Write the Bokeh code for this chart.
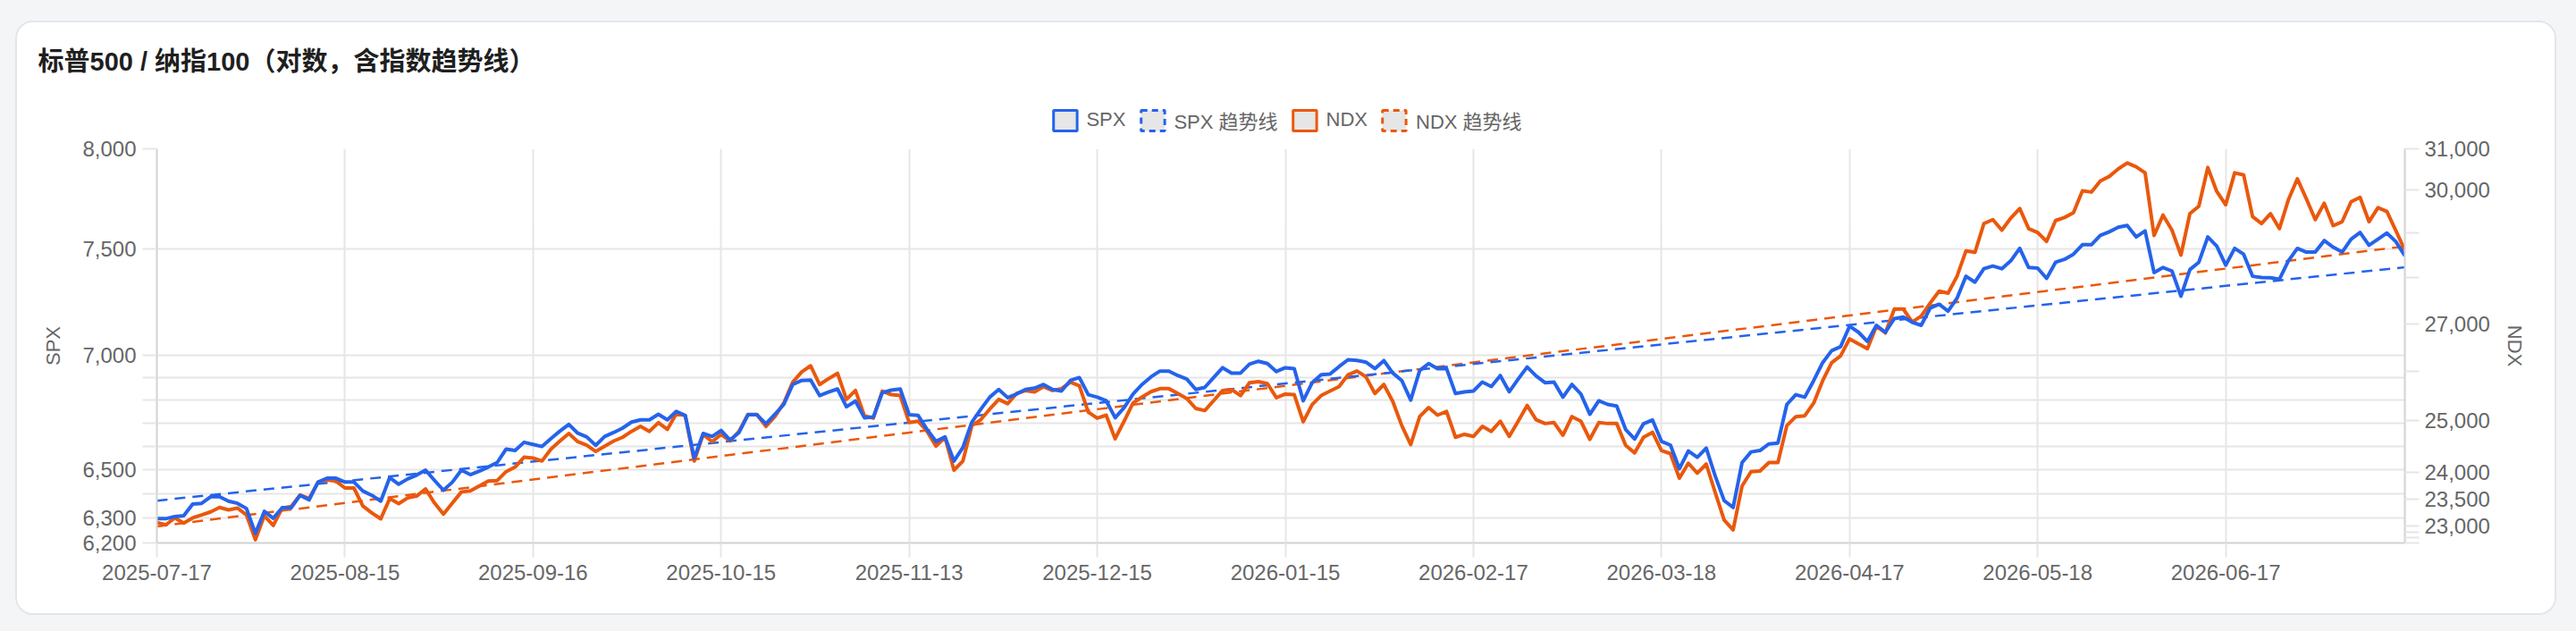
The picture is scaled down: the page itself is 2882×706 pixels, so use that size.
import pandas as pd
from bokeh.plotting import figure
from bokeh.layouts import column, row
from bokeh.models import (Range1d, LogScale, LogAxis, FixedTicker, Legend, LegendItem,
                          Label, ColumnDataSource)
from bokeh.embed import file_html
from bokeh.resources import INLINE

# ---------------- data ----------------
TITLE = "标普500 / 纳指100（对数，含指数趋势线）"
SERIES_NAMES = ["SPX", "SPX 趋势线", "NDX", "NDX 趋势线"]

NYSE_HOLIDAYS = ["2025-09-01", "2025-11-27", "2025-12-25", "2026-01-01", "2026-01-19",
                 "2026-02-16", "2026-04-03", "2026-05-25", "2026-06-19", "2026-07-03"]
dates = pd.bdate_range("2025-07-17", "2026-07-17", freq="C", holidays=NYSE_HOLIDAYS)
date_labels = [d.strftime("%Y-%m-%d") for d in dates]

spx = [
    6298, 6298, 6307, 6310, 6358, 6361, 6388, 6388, 6370, 6361,
    6340, 6239, 6328, 6300, 6343, 6343, 6394, 6375, 6449, 6465,
    6465, 6449, 6449, 6412, 6394, 6370, 6468, 6440, 6462, 6478,
    6499, 6456, 6415, 6449, 6499, 6480, 6495, 6512, 6531, 6588,
    6582, 6617,
    6608, 6599, 6633, 6665, 6694, 6656, 6640, 6604, 6642, 6659,
    6678, 6704, 6714, 6714, 6738, 6714, 6751, 6733, 6550, 6655,
    6642, 6668, 6627, 6659, 6736, 6736, 6697, 6738, 6781, 6869,
    6887, 6889, 6820, 6836, 6849, 6771, 6796, 6723, 6726, 6833,
    6844, 6849,
    6736, 6733, 6672, 6621, 6640, 6537, 6595, 6704, 6760, 6813,
    6847, 6811, 6827, 6847, 6853, 6869, 6847, 6840, 6887, 6900,
    6824, 6813, 6797, 6723, 6767, 6827, 6869, 6903, 6929, 6929,
    6909, 6893, 6847, 6856, 6900, 6944, 6920, 6920, 6960, 6973,
    6963, 6927,
    6944, 6940, 6797, 6877, 6913, 6916, 6949, 6980, 6977, 6969,
    6940, 6976, 6920, 6887, 6800, 6931, 6963, 6940, 6940, 6829,
    6836, 6840, 6880, 6860, 6909, 6837, 6893, 6947, 6907, 6877,
    6880, 6813, 6869, 6827, 6738, 6797, 6781, 6774, 6672, 6631,
    6697, 6713,
    6621, 6605, 6505, 6580, 6553, 6592, 6474, 6372, 6344, 6531,
    6576, 6582, 6610, 6614, 6781, 6824, 6813, 6887, 6967, 7021,
    7039, 7133, 7105, 7063, 7137, 7105, 7168, 7175, 7151, 7137,
    7217, 7235, 7203, 7263, 7367, 7339, 7403, 7416, 7403, 7441,
    7501, 7409,
    7406, 7357, 7434, 7448, 7473, 7519, 7519, 7564, 7582, 7604,
    7613, 7557, 7586, 7385, 7409, 7392, 7273, 7399, 7434, 7557,
    7512, 7420, 7501, 7473, 7367, 7361, 7360, 7353, 7441, 7501,
    7483, 7483, 7539, 7507, 7483, 7546, 7579, 7516, 7546, 7576,
    7534, 7465,
]

ndx = [
    23071, 23027, 23154, 23060, 23154, 23209, 23264, 23346, 23302, 23335,
    23209, 22759, 23192, 23016, 23335, 23362, 23579, 23511, 23820, 23860,
    23837, 23708, 23708, 23373, 23247, 23137, 23511, 23417, 23522, 23556,
    23691, 23428, 23225, 23428, 23635, 23652, 23747, 23837, 23848, 24017,
    24104, 24293,
    24276, 24219, 24449, 24604, 24753, 24592, 24523, 24403, 24506, 24604,
    24678, 24793, 24891, 24793, 24966, 24833, 25145, 25102, 24219, 24736,
    24592, 24736, 24604, 24793, 25126, 25126, 24891, 25084, 25355, 25777,
    25988, 26113, 25729, 25849, 25958, 25428, 25608, 25102, 25054, 25596,
    25524, 25506,
    24966, 24994, 24793, 24506, 24678, 24046, 24219, 24908, 25024, 25235,
    25428, 25343, 25548, 25608, 25578, 25687, 25608, 25645, 25777, 25705,
    25175, 25054, 25114, 24649, 24994, 25355, 25476, 25584, 25645, 25645,
    25548, 25446, 25247, 25205, 25404, 25608, 25626, 25506, 25765, 25789,
    25747, 25464,
    25536, 25524, 24983, 25325, 25506, 25596, 25687, 25928, 26006, 25886,
    25548, 25729, 25385, 24908, 24535, 25084, 25265, 25114, 25187, 24678,
    24736, 24695, 24891, 24793, 24994, 24695, 24994, 25307, 25024, 24948,
    24966, 24718, 25084, 24994, 24638, 24966, 24948, 24948, 24523, 24374,
    24678, 24776,
    24420, 24362, 23893, 24178, 23989, 24161, 23623, 23115, 22936, 23747,
    24017, 24029, 24190, 24190, 24908, 25084, 25102, 25355, 25807, 26175,
    26319, 26675, 26569, 26469, 26944, 26800, 27312, 27312, 27032, 27162,
    27441, 27701, 27656, 28027, 28597, 28564, 29222, 29312, 29069, 29347,
    29570, 29104,
    29014, 28812, 29291, 29361, 29472, 29986, 29958, 30223, 30331, 30511,
    30655, 30561, 30417, 28946, 29417, 29069, 28503, 29451, 29625, 30546,
    29972, 29660, 30417, 30367, 29382, 29222, 29451, 29104, 29778, 30273,
    29799, 29313, 29694, 29173, 29264, 29729, 29833, 29264, 29590, 29500,
    29055, 28611,
]

# exponential trend lines (start / end values, straight on the log axis)
spx_trend = [6372, 7410]
ndx_trend = [23000, 28700]

spx_ticks = [6200, 6300, 6400, 6500, 6600, 6700, 6800, 6900, 7000, 7500, 8000]
spx_tick_labels = ["6,200", "6,300", "", "6,500", "", "", "", "", "7,000", "7,500", "8,000"]
ndx_ticks = [22700, 22800, 22900, 23000, 23500, 24000, 25000, 26000, 27000, 28000, 29000, 30000, 31000]
ndx_tick_labels = ["", "", "", "23,000", "23,500", "24,000", "25,000", "", "27,000", "", "", "30,000", "31,000"]
x_tick_step = 21

# ---------------- style ----------------
BLUE = "#2563eb"
ORANGE = "#ea580c"
GRID = "#e6e6e6"
AXIS = "#d2d2d2"
TXT = "#666666"
PAGE = "#f4f5f7"
FONT = "'Liberation Sans', 'Noto Sans CJK SC', sans-serif"

PAGE_W, PAGE_H = 2882, 706
PAD_L, PAD_T = 17, 23
CARD_W = 2839          # inner width of the white card (2px css border around)
HEADER_H = 125
MAIN_H = 536

n = len(dates)
x_idx = list(range(n))
src = ColumnDataSource(dict(x=x_idx, spx=spx, ndx=ndx, date=date_labels))
x_ticks = x_idx[::x_tick_step]


def blank(w, h, color):
    f = figure(width=w, height=h, output_backend="svg", toolbar_location=None,
               x_axis_location=None, y_axis_location=None, min_border=0,
               background_fill_color=color, border_fill_color=color)
    f.outline_line_color = None
    f.grid.visible = False
    f.frame_align = False
    return f

# ---------------- header (title + legend) ----------------
hdr = figure(width=CARD_W, height=HEADER_H, output_backend="svg", toolbar_location=None,
             x_range=Range1d(0, CARD_W), y_range=Range1d(0, HEADER_H),
             x_axis_location=None, y_axis_location=None, min_border=0,
             background_fill_color="white", border_fill_color="white")
hdr.outline_line_color = None
hdr.grid.visible = False
hdr.frame_align = False

hdr.add_layout(Label(x=23, y=HEADER_H - 43.5, text=TITLE, text_baseline="middle", text_align="left",
                     text_font=FONT, text_font_size="29px", text_font_style="bold",
                     text_color="#1f1f1f"))

nan = float("nan")
def swatch(color, dash):
    return hdr.quad(left=[nan], right=[nan], top=[nan], bottom=[nan], fill_color="#e6e6e6",
                    line_color=color, line_width=3, line_dash=dash)

items = [
    LegendItem(label=SERIES_NAMES[0], renderers=[swatch(BLUE, "solid")]),
    LegendItem(label=SERIES_NAMES[1], renderers=[swatch(BLUE, "7 5")]),
    LegendItem(label=SERIES_NAMES[2], renderers=[swatch(ORANGE, "solid")]),
    LegendItem(label=SERIES_NAMES[3], renderers=[swatch(ORANGE, "7 5")]),
]
legend = Legend(items=items, orientation="horizontal", location="bottom_center",
                glyph_width=33, glyph_height=29, label_standoff=8, spacing=13,
                padding=0, margin=0, border_line_color=None, background_fill_alpha=0,
                label_text_font=FONT, label_text_font_size="22px", label_text_color=TXT)
hdr.add_layout(legend, "center")

# ---------------- main chart ----------------
p = figure(width=CARD_W, height=MAIN_H, output_backend="svg", toolbar_location=None,
           x_range=Range1d(x_idx[0], x_idx[-1]),
           y_range=Range1d(spx_ticks[0], spx_ticks[-1]), y_axis_type="log",
           min_border_left=156, min_border_right=168, min_border_top=16, min_border_bottom=79,
           background_fill_color="white", border_fill_color="white")
p.outline_line_color = None
p.extra_y_ranges = {"ndx": Range1d(ndx_ticks[0], ndx_ticks[-1])}
p.extra_y_scales = {"ndx": LogScale()}

def style_axis(ax):
    ax.axis_line_color = AXIS
    ax.axis_line_width = 2
    ax.major_tick_line_color = GRID
    ax.major_tick_line_width = 2
    ax.major_tick_out = 16
    ax.major_tick_in = 0
    ax.minor_tick_out = 0
    ax.minor_tick_in = 0
    ax.major_label_text_font = FONT
    ax.major_label_text_font_size = "24px"
    ax.major_label_text_color = TXT
    ax.axis_label_text_font = FONT
    ax.axis_label_text_font_size = "22px"
    ax.axis_label_text_font_style = "normal"
    ax.axis_label_text_color = TXT

xax = p.xaxis[0]
xax.ticker = FixedTicker(ticks=x_ticks)
xax.major_label_overrides = {t: date_labels[t] for t in x_ticks}
style_axis(xax)
xax.major_label_standoff = 8

yax = p.yaxis[0]
yax.ticker = FixedTicker(ticks=spx_ticks)
yax.major_label_overrides = dict(zip(spx_ticks, spx_tick_labels))
style_axis(yax)
yax.axis_label = "SPX"
yax.major_label_standoff = 7
yax.axis_label_standoff = 17

rax = LogAxis(y_range_name="ndx", ticker=FixedTicker(ticks=ndx_ticks))
rax.major_label_overrides = dict(zip(ndx_ticks, ndx_tick_labels))
style_axis(rax)
rax.axis_label = "NDX"
rax.major_label_standoff = 6
rax.axis_label_standoff = 12
p.add_layout(rax, "right")

p.xgrid[0].ticker = FixedTicker(ticks=x_ticks)
p.ygrid[0].ticker = FixedTicker(ticks=spx_ticks)
for g in (p.xgrid[0], p.ygrid[0]):
    g.grid_line_color = GRID
    g.grid_line_width = 2

ends = [x_idx[0], x_idx[-1]]
p.line(ends, ndx_trend, y_range_name="ndx", line_color=ORANGE, line_width=2.5, line_dash="12 8")
p.line(ends, spx_trend, line_color=BLUE, line_width=2.5, line_dash="12 8")
p.line("x", "ndx", source=src, y_range_name="ndx", line_color=ORANGE, line_width=4, line_join="round")
p.line("x", "spx", source=src, line_color=BLUE, line_width=4, line_join="round")

# ---------------- page ----------------
card = column(hdr, p, spacing=0,
              styles={"border": "2px solid #e3e5e9", "border-radius": "20px",
                      "overflow": "hidden", "background-color": "white"})
card_h = HEADER_H + MAIN_H + 4
card_w = CARD_W + 4
mid = row(blank(PAD_L, card_h, PAGE), card, blank(PAGE_W - PAD_L - card_w, card_h, PAGE), spacing=0)
root = column(blank(PAGE_W, PAD_T, PAGE), mid, blank(PAGE_W, PAGE_H - PAD_T - card_h, PAGE),
              spacing=0, styles={"background-color": PAGE})

open("out.html", "w").write(file_html(root, INLINE))
